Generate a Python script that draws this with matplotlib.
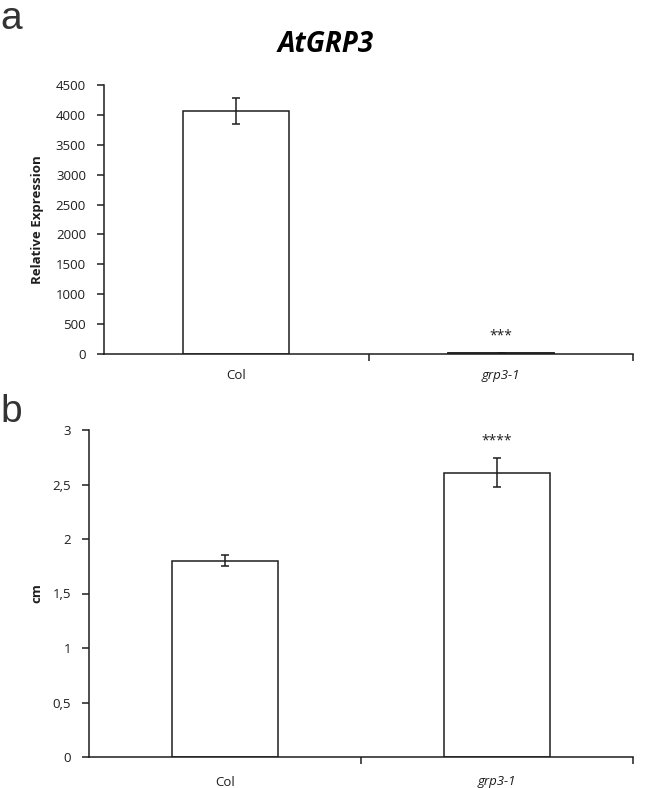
import matplotlib.pyplot as plt

plt.rcParams['font.family'] = ['Open Sans', 'DejaVu Sans']

# data
genotypes = ['Col', 'grp3-1']
expr = [4070, 25]
expr_err = [220, 0]
expr_stars = ['', '***']

length_cm = [1.80, 2.61]
length_err = [0.05, 0.135]
length_stars = ['', '****']

W, H = 653, 788
fig = plt.figure(figsize=(W / 100, H / 100), dpi=100)

ink = '#1e1e1e'


def style(ax, label_y):
    for s in ['top', 'right']:
        ax.spines[s].set_visible(False)
    for s in ['left', 'bottom']:
        ax.spines[s].set_linewidth(1.1)
        ax.spines[s].set_color(ink)
    ax.set_xlim(-0.5, 1.5)
    ax.set_xticks([0.5, 1.5])
    ax.set_xticklabels([])
    ax.tick_params(axis='x', length=5, width=1.1, color=ink)
    ax.tick_params(axis='y', length=5, width=1.1, color=ink, labelsize=9.5, labelcolor=ink, pad=8)
    for i, g in enumerate(genotypes):
        ax.text(i, label_y, g, transform=ax.get_xaxis_transform(), ha='center', va='center',
                fontsize=9.5, color=ink, style='italic' if i == 1 else 'normal')


# panel a
ax1 = fig.add_axes([104 / W, 1 - 354 / H, 529 / W, 269 / H])
ax1.bar(range(2), expr, width=0.4, color='white', edgecolor=ink, linewidth=1.1,
        yerr=expr_err, error_kw=dict(ecolor=ink, elinewidth=1.1, capsize=3, capthick=1.1))
ax1.bar(1, expr[1], width=0.4, color=ink, edgecolor=ink, linewidth=1.1)
ax1.set_ylim(0, 4500)
ax1.set_yticks(range(0, 4501, 500))
style(ax1, -21 / 269)
ax1.text(1, 170, expr_stars[1], ha='center', va='bottom', fontsize=10, color=ink)
fig.text(37 / W, 1 - 220 / H, 'Relative Expression', rotation=90, ha='center', va='center',
         fontsize=9.5, fontweight='bold', color=ink)
fig.text(326 / W, 1 - 45 / H, 'AtGRP3', ha='center', va='center', fontsize=20,
         fontweight='bold', style='italic', color='black')

# panel b
ax2 = fig.add_axes([89 / W, 1 - 757 / H, 544 / W, 327 / H])
ax2.bar(range(2), length_cm, width=0.39, color='white', edgecolor=ink, linewidth=1.1,
        yerr=length_err, error_kw=dict(ecolor=ink, elinewidth=1.1, capsize=3, capthick=1.1))
ax2.set_ylim(0, 3)
ax2.set_yticks([0, 0.5, 1, 1.5, 2, 2.5, 3])
ax2.set_yticklabels(['0', '0,5', '1', '1,5', '2', '2,5', '3'])
style(ax2, -25 / 327)
ax2.text(1, length_cm[1] + length_err[1] + 0.09, length_stars[1], ha='center', va='bottom',
         fontsize=10, color=ink)
fig.text(37 / W, 1 - 593 / H, 'cm', rotation=90, ha='center', va='center',
         fontsize=9.5, fontweight='bold', color=ink)

# panel letters
fig.text(0.0, 1 - 29 / H, 'a', fontsize=28, color='#333333', va='baseline', ha='left',
         family='Liberation Sans')
fig.text(0.0, 1 - 422 / H, 'b', fontsize=28, color='#333333', va='baseline', ha='left',
         family='Liberation Sans')

fig.savefig('out.png', dpi=100, facecolor='white')
